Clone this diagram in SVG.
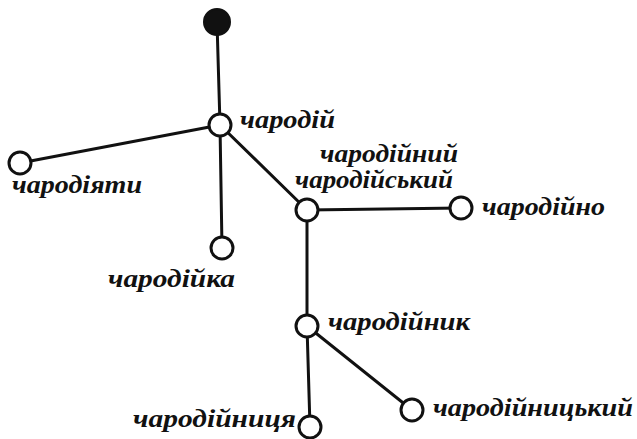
<svg xmlns="http://www.w3.org/2000/svg" width="637" height="439" viewBox="0 0 637 439">
<style>
.e{stroke:#111;stroke-width:3;fill:none;stroke-linecap:round}
.n{fill:#fff;stroke:#111;stroke-width:3}
.t{font-family:"Liberation Serif","DejaVu Serif",serif;font-style:italic;font-weight:bold;font-size:25px;fill:#111}
</style>
<rect width="637" height="439" fill="#fff"/>
<g id="connectors">
<line class="e" x1="217" y1="22" x2="220" y2="125"/>
<line class="e" x1="220" y1="125" x2="20" y2="163"/>
<line class="e" x1="220" y1="125" x2="222" y2="248"/>
<line class="e" x1="220" y1="125" x2="307" y2="210"/>
<line class="e" x1="307" y1="210" x2="461" y2="208"/>
<line class="e" x1="307" y1="210" x2="307" y2="326"/>
<line class="e" x1="307" y1="326" x2="310" y2="427"/>
<line class="e" x1="307" y1="326" x2="412" y2="410"/>
</g>
<g id="root"><circle cx="217" cy="22" r="13" fill="#111" stroke="#111" stroke-width="2"/></g>
<g id="n1"><circle class="n" cx="220" cy="125" r="11"/><text class="t" x="240" y="128" textLength="95" lengthAdjust="spacingAndGlyphs">чародій</text></g>
<g id="n2"><circle class="n" cx="20" cy="163" r="11"/><text class="t" x="12" y="193" textLength="130" lengthAdjust="spacingAndGlyphs">чародіяти</text></g>
<g id="n3"><circle class="n" cx="222" cy="248" r="11"/><text class="t" x="108" y="287" textLength="127" lengthAdjust="spacingAndGlyphs">чародійка</text></g>
<g id="n4"><circle class="n" cx="307" cy="210" r="11"/><text class="t" x="320" y="162" textLength="138" lengthAdjust="spacingAndGlyphs">чародійний</text><text class="t" x="295" y="188" textLength="158" lengthAdjust="spacingAndGlyphs">чародійський</text></g>
<g id="n5"><circle class="n" cx="461" cy="208" r="11"/><text class="t" x="482" y="215" textLength="123" lengthAdjust="spacingAndGlyphs">чародійно</text></g>
<g id="n6"><circle class="n" cx="307" cy="326" r="11"/><text class="t" x="328" y="330" textLength="142" lengthAdjust="spacingAndGlyphs">чародійник</text></g>
<g id="n7"><circle class="n" cx="310" cy="427" r="11"/><text class="t" x="133" y="427" textLength="163" lengthAdjust="spacingAndGlyphs">чародійниця</text></g>
<g id="n8"><circle class="n" cx="412" cy="410" r="11"/><text class="t" x="433" y="416" textLength="200" lengthAdjust="spacingAndGlyphs">чародійницький</text></g>
</svg>
